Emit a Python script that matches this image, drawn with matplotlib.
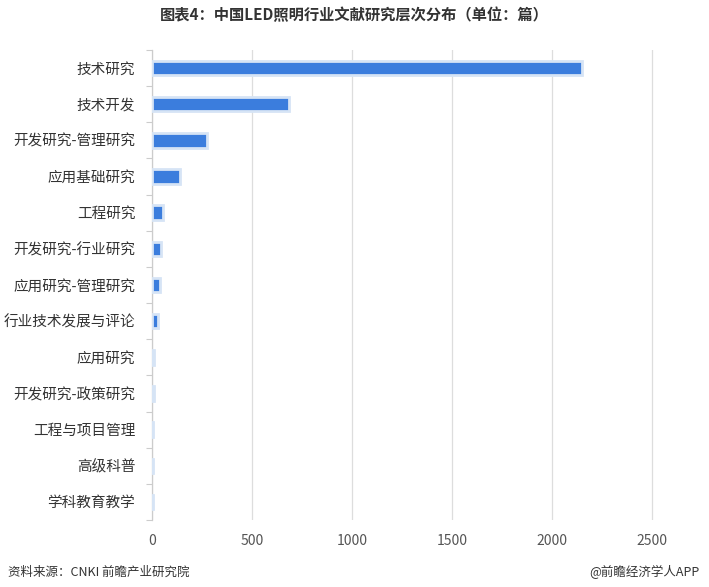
import numpy as np
import matplotlib.pyplot as plt

plt.rcParams['font.family'] = ['Noto Sans CJK SC', 'DejaVu Sans']

# data (篇)
categories = ["技术研究", "技术开发", "开发研究-管理研究", "应用基础研究", "工程研究",
              "开发研究-行业研究", "应用研究-管理研究", "行业技术发展与评论", "应用研究",
              "开发研究-政策研究", "工程与项目管理", "高级科普", "学科教育教学"]
values = [2150, 685, 275, 140, 55, 45, 40, 30, 8, 8, 3, 3, 3]
x_ticks = [0, 500, 1000, 1500, 2000, 2500]

fig = plt.figure(figsize=(7.09, 5.87), dpi=100)
ax = fig.add_axes([152 / 709, 1 - 520 / 587, (680 - 152) / 709, (520 - 50) / 587])

y = np.arange(len(categories))
ax.barh(y, values, height=0.4, color="#3b7ddd", edgecolor="#d6e4f5", linewidth=2, zorder=3)

ax.set_ylim(len(categories) - 0.5, -0.5)
ax.set_xlim(0, 2640)
ax.set_yticks(y)
ax.set_yticklabels(categories, fontsize=10.5, color="#333333")
ax.set_yticks(np.arange(len(categories) + 1) - 0.5, minor=True)
ax.tick_params(axis="y", which="major", length=0, pad=12)
ax.tick_params(axis="y", which="minor", length=4, color="#cccccc", width=0.8)
ax.set_xticks(x_ticks)
ax.set_xticklabels([str(t) for t in x_ticks], fontsize=10, color="#555555")
ax.tick_params(axis="x", length=0, pad=10)
ax.grid(axis="x", color="#dddddd", linewidth=0.9, zorder=0)

for s in ["top", "right", "bottom"]:
    ax.spines[s].set_visible(False)
ax.spines["left"].set_color("#cccccc")
ax.spines["left"].set_linewidth(0.9)

fig.text(0.5, 1 - 15 / 587, "图表4：中国LED照明行业文献研究层次分布（单位：篇）",
         ha="center", va="center", fontsize=11, fontweight="bold", color="#333333")
fig.text(8 / 709, 1 - 572 / 587, "资料来源：CNKI 前瞻产业研究院", ha="left", va="center",
         fontsize=9, color="#333333")
fig.text(700 / 709, 1 - 572 / 587, "@前瞻经济学人APP", ha="right", va="center",
         fontsize=9, color="#333333")

fig.savefig("out.png", dpi=100)
